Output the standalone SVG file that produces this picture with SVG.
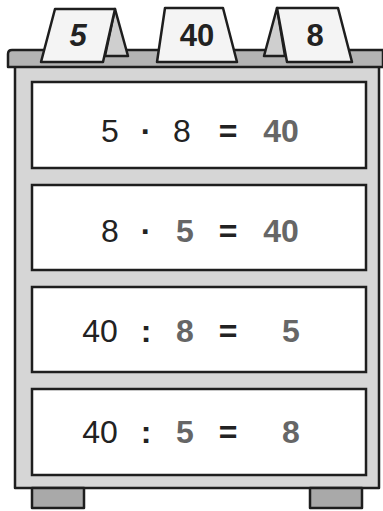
<svg xmlns="http://www.w3.org/2000/svg" width="383" height="511" viewBox="0 0 383 511">
<style>
.ol{stroke:#1e1e1e;stroke-width:2.5;stroke-linejoin:round}
.panel{fill:#fff;stroke:#1e1e1e;stroke-width:2.5}
.card{fill:#f4f4f4;stroke:#1e1e1e;stroke-width:2.5;stroke-linejoin:round}
.back{fill:#cfcfcf;stroke:#1e1e1e;stroke-width:2.5;stroke-linejoin:round}
.t{font-family:"Liberation Sans",Arial,sans-serif;font-size:32px;text-anchor:middle;fill:#222}
.g{font-weight:bold;fill:#666}
.b{font-weight:bold}
.ct{font-family:"Liberation Sans",Arial,sans-serif;font-size:31px;font-weight:bold;text-anchor:middle;fill:#222}
</style>
<g id="cabinet">
<rect x="15" y="66" width="364" height="422" fill="#d6d6d6" class="ol"/>
</g>
<g id="feet">
<rect x="32" y="488" width="52" height="20" fill="#a9a9a9" class="ol"/>
<rect x="310" y="488" width="52" height="20" fill="#a9a9a9" class="ol"/>
</g>
<g id="board">
<path d="M12 50 H383 V67 H8 V54 Q8 50 12 50 Z" fill="#b3b3b3" class="ol"/>
</g>
<g id="card-5">
<polygon points="115,9 128,56 105,56" class="back"/>
<polygon points="55,9 115,9 103,62 41,62" class="card"/>
<text x="78" y="46" class="ct" font-style="italic">5</text>
</g>
<g id="card-40">
<polygon points="165,8 223,8 237,62 157,62" class="card"/>
<text x="197" y="46" class="ct">40</text>
</g>
<g id="card-8">
<polygon points="277,8 264,56 285,56" class="back"/>
<polygon points="277,8 338,8 352,62 287,62" class="card"/>
<text x="315" y="46" class="ct">8</text>
</g>
<g id="row1">
<rect x="32" y="82" width="334" height="86" class="panel"/>
<text x="110" y="142" class="t">5</text>
<text x="146" y="142" class="t b">·</text>
<text x="182" y="142" class="t">8</text>
<text x="228" y="142" class="t b">=</text>
<text x="281" y="142" class="t g">40</text>
</g>
<g id="row2">
<rect x="32" y="185" width="334" height="85" class="panel"/>
<text x="110" y="242" class="t">8</text>
<text x="146" y="242" class="t b">·</text>
<text x="185" y="242" class="t g">5</text>
<text x="228" y="242" class="t b">=</text>
<text x="281" y="242" class="t g">40</text>
</g>
<g id="row3">
<rect x="32" y="287" width="334" height="85" class="panel"/>
<text x="100" y="342" class="t">40</text>
<text x="146" y="342" class="t b">:</text>
<text x="185" y="342" class="t g">8</text>
<text x="228" y="342" class="t b">=</text>
<text x="291" y="342" class="t g">5</text>
</g>
<g id="row4">
<rect x="32" y="389" width="334" height="86" class="panel"/>
<text x="100" y="443" class="t">40</text>
<text x="146" y="443" class="t b">:</text>
<text x="185" y="443" class="t g">5</text>
<text x="228" y="443" class="t b">=</text>
<text x="291" y="443" class="t g">8</text>
</g>
<g id="connectors"></g>
</svg>
